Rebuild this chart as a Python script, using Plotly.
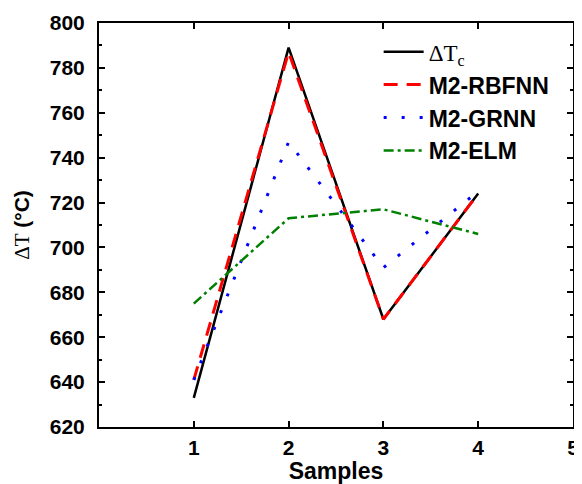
import plotly.graph_objects as go

samples = [1, 2, 3, 4]
dt_c = [633, 789, 668, 724]
rbfnn = [641, 787, 668, 724]
grnn = [641, 747, 691, 725]
elm = [675, 713, 717, 706]

names = ['<span style="font-family:Liberation Serif;font-weight:normal">ΔT<sub>c</sub></span>',
         'M2-RBFNN', 'M2-GRNN', 'M2-ELM']

fig = go.Figure()
fig.add_trace(go.Scatter(x=samples, y=dt_c, mode='lines', name=names[0],
                         line=dict(color='black', width=2.5)))
fig.add_trace(go.Scatter(x=samples, y=rbfnn, mode='lines', name=names[1],
                         line=dict(color='#ff0000', width=3, dash='14px,9px')))
fig.add_trace(go.Scatter(x=samples, y=grnn, mode='lines', name=names[2],
                         line=dict(color='#0000ff', width=3, dash='3px,15px')))
fig.add_trace(go.Scatter(x=samples, y=elm, mode='lines', name=names[3],
                         line=dict(color='#008000', width=2.5, dash='10px,4px,3px,4px')))

font_b = dict(family='Liberation Sans, Arial', size=21, color='black', weight='bold')

fig.update_layout(
    width=574, height=476,
    margin=dict(l=91, r=9, t=15, b=57, autoexpand=False),
    paper_bgcolor='white', plot_bgcolor='white',
    font=font_b,
    showlegend=True,
    legend=dict(x=0.59, y=0.982, xanchor='left', yanchor='top',
                bgcolor='rgba(0,0,0,0)', font=dict(family='Liberation Sans, Arial', size=23, color='black', weight='bold'),
                tracegroupgap=0, itemwidth=40),
    xaxis=dict(range=[0, 5], tickvals=[1, 2, 3, 4, 5], ticks='inside', ticklen=6, tickwidth=1.5,
               tickcolor='black', showline=True, linecolor='black', linewidth=2, mirror='ticks',
               showgrid=False, zeroline=False, tickfont=font_b, ticklabelstandoff=1, automargin=False,
               title=dict(text='Samples', font=dict(family='Liberation Sans, Arial', size=23, color='black', weight='bold'), standoff=2)),
    yaxis=dict(range=[620, 800], dtick=20, ticks='inside', ticklen=6, tickwidth=1.5,
               tickcolor='black', showline=True, linecolor='black', linewidth=2, mirror='ticks',
               showgrid=False, zeroline=False, tickfont=font_b, ticklabelstandoff=8, automargin=False,
               minor=dict(dtick=10, ticks='inside', ticklen=3, tickcolor='black', tickwidth=1.5, showgrid=False),
               title=dict(text='<span style="font-family:Liberation Serif;font-weight:normal">ΔT</span> (°C)',
                          font=dict(family='Liberation Sans, Arial', size=21, color='black', weight='bold'), standoff=14)),
)

fig.write_html("out.html")
